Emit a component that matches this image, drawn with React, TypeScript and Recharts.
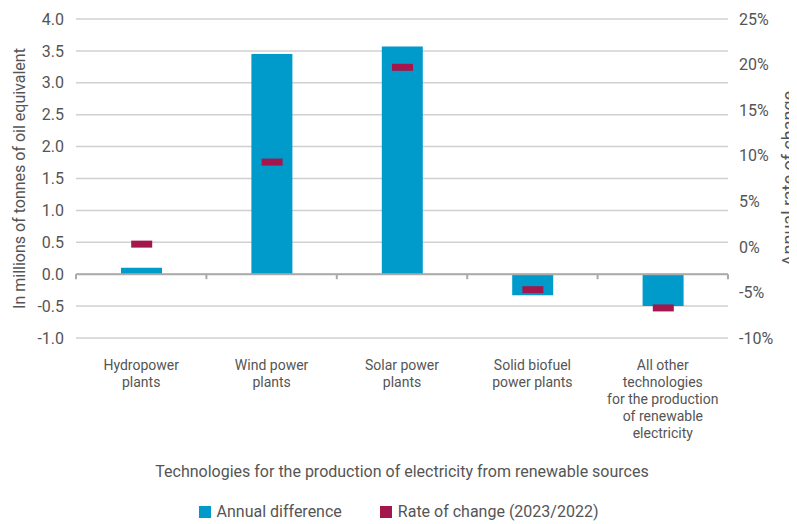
import {
  ComposedChart,
  Bar,
  Scatter,
  XAxis,
  YAxis,
  CartesianGrid,
  ReferenceLine,
  Legend,
} from 'recharts';

const categories = [
  'Hydropower\nplants',
  'Wind power\nplants',
  'Solar power\nplants',
  'Solid biofuel\npower plants',
  'All other\ntechnologies\nfor the production\nof renewable\nelectricity',
];
const annualDifference = [0.1, 3.45, 3.57, -0.33, -0.5];
const rateOfChange = [0.3, 9.3, 19.7, -4.7, -6.7];
const leftTicks = [-1, -0.5, 0, 0.5, 1, 1.5, 2, 2.5, 3, 3.5, 4];
const rightTicks = [-10, -5, 0, 5, 10, 15, 20, 25];

const BLUE = '#009bcb';
const CRIMSON = '#a3174c';
const TEXT = '#555';
const FONT = 'Roboto, "Noto Sans", sans-serif';

const data = categories.map((name, i) => ({
  name,
  diff: annualDifference[i],
  rate: rateOfChange[i],
}));

function CategoryTick({ x, y, payload }: any) {
  const lines = String(payload.value).split('\n');
  return (
    <text x={x} y={y} textAnchor="middle" fill={TEXT} fontSize={14} fontFamily={FONT}>
      {lines.map((l, i) => (
        <tspan key={i} x={x} dy={i === 0 ? 24 : 17}>
          {l}
        </tspan>
      ))}
    </text>
  );
}

function ZeroLine({ x1, y1, x2, y2 }: any) {
  const n = categories.length;
  const marks = Array.from({ length: n + 1 }, (_, k) => x1 + ((x2 - x1) * k) / n);
  return (
    <g>
      <line x1={x1} y1={y1} x2={x2} y2={y2} stroke="#aaa" strokeWidth={2} />
      {marks.map((mx, k) => (
        <line key={k} x1={mx} y1={y1} x2={mx} y2={y1 + 5} stroke="#aaa" strokeWidth={2} />
      ))}
    </g>
  );
}

function RateMarker({ cx, cy }: any) {
  return <rect x={cx - 10} y={cy - 3.5} width={21} height={7} fill={CRIMSON} />;
}

function SideLabel({ viewBox, value, fromRight, size }: any) {
  const cx = fromRight ? viewBox.x + 60 : viewBox.x + 19;
  const cy = viewBox.y + viewBox.height / 2;
  return (
    <text
      x={cx}
      y={cy}
      transform={`rotate(-90 ${cx} ${cy})`}
      textAnchor="middle"
      dominantBaseline="central"
      fill={TEXT}
      fontSize={size}
      fontFamily={FONT}
    >
      {value}
    </text>
  );
}

function LegendBox() {
  const item = (color: string, label: string) => (
    <span style={{ display: 'inline-flex', alignItems: 'center', margin: '0 19px' }}>
      <span style={{ width: 12, height: 12, background: color, marginRight: 6, display: 'inline-block' }} />
      {label}
    </span>
  );
  return (
    <div style={{ textAlign: 'center', fontFamily: FONT, fontSize: 16, color: TEXT, paddingTop: 8 }}>
      {item(BLUE, 'Annual difference')}
      {item(CRIMSON, 'Rate of change (2023/2022)')}
    </div>
  );
}

export default function App() {
  return (
    <ComposedChart
      width={797}
      height={524}
      data={data}
      margin={{ top: 19, right: 0, bottom: 0, left: 0 }}
      style={{ marginLeft: -8, marginTop: -8 }}
    >
      <CartesianGrid yAxisId="left" vertical={false} stroke="#d0d0d0" strokeWidth={1.5} />
      <XAxis
        dataKey="name"
        axisLine={false}
        tickLine={false}
        interval={0}
        height={156}
        tick={<CategoryTick />}
        label={{
          value: 'Technologies for the production of electricity from renewable sources',
          position: 'insideBottom',
          offset: 17,
          fill: TEXT,
          fontSize: 16,
          fontFamily: FONT,
        }}
      />
      <YAxis
        yAxisId="left"
        domain={[-1, 4]}
        ticks={leftTicks}
        width={76}
        axisLine={false}
        tickLine={false}
        tickFormatter={(v: number) => v.toFixed(1)}
        tick={{ fill: TEXT, fontSize: 16, fontFamily: FONT, dx: -4 }}
        label={<SideLabel value="In millions of tonnes of oil equivalent" size={16} />}
      />
      <YAxis
        yAxisId="right"
        orientation="right"
        domain={[-10, 25]}
        ticks={rightTicks}
        width={69}
        axisLine={false}
        tickLine={false}
        tickFormatter={(v: number) => `${v}%`}
        tick={{ fill: TEXT, fontSize: 16, fontFamily: FONT, dx: 3 }}
        label={<SideLabel value="Annual rate of change" size={18} fromRight />}
      />
      <Legend verticalAlign="bottom" height={30} content={<LegendBox />} />
      <Bar yAxisId="left" dataKey="diff" name="Annual difference" fill={BLUE} barSize={41} isAnimationActive={false} />
      <ReferenceLine yAxisId="left" y={0} shape={<ZeroLine />} />
      <Scatter
        yAxisId="right"
        dataKey="rate"
        name="Rate of change (2023/2022)"
        fill={CRIMSON}
        shape={<RateMarker />}
        isAnimationActive={false}
      />
    </ComposedChart>
  );
}
